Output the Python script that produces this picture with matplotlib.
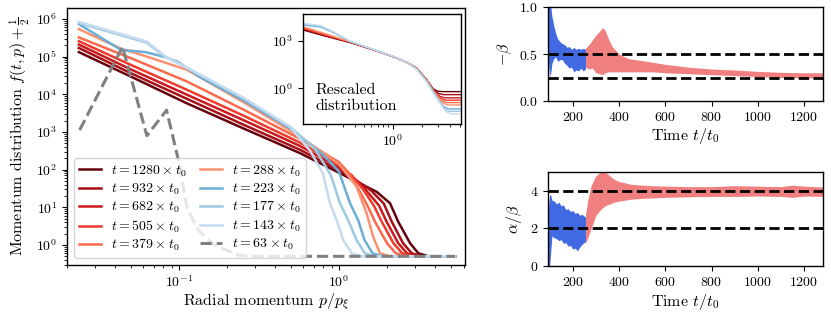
import numpy as np
import matplotlib
matplotlib.use('Agg')
import matplotlib.pyplot as plt
from matplotlib.ticker import NullLocator, NullFormatter, FixedLocator

plt.rcParams.update({
    'font.family': 'serif',
    'font.serif': ['cmr10'],
    'mathtext.fontset': 'cm',
    'axes.formatter.use_mathtext': True,
    'font.size': 10,
    'axes.labelsize': 11.5,
    'axes.linewidth': 1.0,
})

# ---- main panel: momentum distribution, values read as log10(p), log10(f + 1/2)
times = [1280, 932, 682, 505, 379, 288, 223, 177, 143]
colors = ['#67000d', '#a50f15', '#cb181d', '#ef3b2c', '#fb6a4a',
          '#fc9272', '#6baed6', '#9ecae1', '#c6dbef']

lp_1280 = [-1.625, -1.3, -0.95, -0.6, -0.244, 0.0, 0.11, 0.236, 0.319, 0.37, 0.444, 0.496, 0.56, 0.725]
lf_1280 = [5.12, 4.47, 3.76, 3.10, 2.44, 1.92, 1.68, 1.41, 1.11, 0.62, 0.05, -0.22, -0.30, -0.30]
lp_932 = [-1.625, -1.3, -0.95, -0.6, -0.244, 0.0, 0.1, 0.2, 0.28, 0.33, 0.40, 0.455, 0.52, 0.725]
lf_932 = [5.23, 4.56, 3.88, 3.20, 2.53, 1.98, 1.74, 1.45, 1.10, 0.62, 0.05, -0.22, -0.30, -0.30]
lp_682 = [-1.625, -1.3, -0.95, -0.6, -0.244, 0.0, 0.1, 0.17, 0.25, 0.298, 0.37, 0.425, 0.49, 0.725]
lf_682 = [5.32, 4.66, 3.99, 3.32, 2.63, 2.05, 1.75, 1.45, 1.05, 0.62, 0.05, -0.22, -0.30, -0.30]
lp_505 = [-1.625, -1.3, -0.95, -0.6, -0.244, 0.0, 0.08, 0.15, 0.22, 0.267, 0.34, 0.395, 0.46, 0.725]
lf_505 = [5.41, 4.78, 4.12, 3.44, 2.72, 2.12, 1.85, 1.48, 1.03, 0.62, 0.05, -0.22, -0.30, -0.30]
lp_379 = [-1.625, -1.3, -0.95, -0.6, -0.244, 0.0, 0.06, 0.12, 0.18, 0.225, 0.30, 0.355, 0.42, 0.725]
lf_379 = [5.51, 4.96, 4.34, 3.60, 2.82, 2.20, 1.92, 1.50, 1.03, 0.62, 0.05, -0.22, -0.30, -0.30]
lp_288 = [-1.625, -1.367, -1.2, -0.95, -0.6, -0.244, 0.0, 0.11, 0.173, 0.214, 0.256, 0.32, 0.725]
lf_288 = [5.73, 5.22, 5.00, 4.65, 3.80, 2.88, 2.15, 1.55, 0.84, 0.22, -0.22, -0.30, -0.30]
lp_223 = [-1.623, -1.3625, -1.21, -1.0875, -1.006, -0.869, -0.6, -0.306, -0.1, 0.0, 0.069, 0.12, 0.16, 0.21, 0.27, 0.725]
lf_223 = [5.86, 5.18, 5.12, 4.99, 4.86, 4.46, 3.85, 3.10, 2.40, 1.95, 1.11, 0.66, 0.13, -0.22, -0.30, -0.30]
lp_177 = [-1.625, -1.2, -1.096, -0.97, -0.6, -0.306, -0.15, -0.05, 0.006, 0.058, 0.11, 0.1625, 0.22, 0.725]
lf_177 = [5.89, 5.37, 5.02, 4.75, 3.90, 3.14, 2.55, 1.85, 1.11, 0.66, 0.13, -0.22, -0.30, -0.30]
lp_143 = [-1.625, -1.2, -1.077, -0.994, -0.6, -0.306, -0.18, -0.1, -0.056, -0.014, 0.027, 0.08, 0.14, 0.725]
lf_143 = [5.92, 5.40, 4.98, 4.80, 3.92, 3.14, 2.50, 1.90, 1.11, 0.66, 0.13, -0.22, -0.30, -0.30]
lp_63 = [-1.62, -1.352, -1.2, -1.077, -1.0, -0.95, -0.88, -0.78, -0.62, -0.5, 0.725]
lf_63 = [3.05, 5.26, 2.90, 3.58, 2.20, 1.00, 0.40, 0.00, -0.28, -0.30, -0.30]

main_p = [lp_1280, lp_932, lp_682, lp_505, lp_379, lp_288, lp_223, lp_177, lp_143]
main_f = [lf_1280, lf_932, lf_682, lf_505, lf_379, lf_288, lf_223, lf_177, lf_143]

# ---- inset: rescaled distribution (log10 values)
ip_1280 = [-0.934, -0.7, -0.446, -0.2, 0.006, 0.15, 0.25, 0.354, 0.424, 0.47, 0.52, 0.711]
if_1280 = [3.67, 3.28, 2.88, 2.42, 1.99, 1.62, 1.26, 0.53, -0.05, -0.18, -0.21, -0.21]
ip_932 = [-0.934, -0.7, -0.446, -0.2, 0.006, 0.15, 0.25, 0.354, 0.424, 0.48, 0.53, 0.711]
if_932 = [3.72, 3.31, 2.90, 2.42, 1.99, 1.62, 1.26, 0.53, -0.10, -0.33, -0.40, -0.40]
ip_682 = [-0.934, -0.7, -0.446, -0.2, 0.006, 0.15, 0.25, 0.354, 0.424, 0.49, 0.54, 0.711]
if_682 = [3.76, 3.34, 2.91, 2.42, 1.99, 1.62, 1.26, 0.53, -0.12, -0.50, -0.60, -0.60]
ip_505 = [-0.934, -0.7, -0.446, -0.2, 0.006, 0.15, 0.25, 0.354, 0.424, 0.50, 0.55, 0.711]
if_505 = [3.80, 3.37, 2.92, 2.42, 1.99, 1.62, 1.25, 0.52, -0.14, -0.64, -0.75, -0.75]
ip_379 = [-0.934, -0.7, -0.446, -0.2, 0.006, 0.15, 0.25, 0.354, 0.424, 0.51, 0.56, 0.711]
if_379 = [3.84, 3.40, 2.93, 2.43, 1.99, 1.62, 1.25, 0.51, -0.16, -0.78, -0.90, -0.90]
ip_288 = [-0.934, -0.7, -0.446, -0.2, 0.006, 0.15, 0.25, 0.354, 0.424, 0.52, 0.57, 0.711]
if_288 = [3.88, 3.44, 2.94, 2.43, 1.99, 1.62, 1.24, 0.50, -0.18, -0.92, -1.05, -1.05]
ip_223 = [-0.934, -0.75, -0.6, -0.446, -0.2, 0.006, 0.15, 0.25, 0.354, 0.424, 0.53, 0.58, 0.711]
if_223 = [3.99, 3.86, 3.45, 2.95, 2.44, 2.00, 1.62, 1.22, 0.45, -0.22, -1.15, -1.30, -1.30]
ip_177 = [-0.934, -0.75, -0.6, -0.446, -0.2, 0.006, 0.15, 0.25, 0.354, 0.424, 0.54, 0.59, 0.711]
if_177 = [4.05, 3.92, 3.48, 2.96, 2.44, 2.00, 1.62, 1.20, 0.42, -0.26, -1.30, -1.45, -1.45]
ip_143 = [-0.934, -0.75, -0.6, -0.446, -0.2, 0.006, 0.15, 0.25, 0.354, 0.424, 0.55, 0.60, 0.711]
if_143 = [4.09, 3.95, 3.50, 2.98, 2.45, 2.01, 1.62, 1.18, 0.40, -0.30, -1.45, -1.60, -1.60]

inset_p = [ip_1280, ip_932, ip_682, ip_505, ip_379, ip_288, ip_223, ip_177, ip_143]
inset_f = [if_1280, if_932, if_682, if_505, if_379, if_288, if_223, if_177, if_143]

# ---- right panels: exponent bands (lower / upper envelopes)
beta_t_blue = [94, 100, 105, 110, 118, 126, 135, 145, 155, 165, 175, 184, 195, 205, 215, 225, 235, 245, 255]
beta_hi_blue = [1.05, 1.05, 1.0, 0.9, 0.8, 0.72, 0.66, 0.63, 0.61, 0.6, 0.57, 0.58, 0.55, 0.57, 0.55, 0.56, 0.55, 0.56, 0.55]
beta_lo_blue = [0.45, 0.26, 0.3, 0.4, 0.45, 0.47, 0.42, 0.44, 0.44, 0.4, 0.38, 0.35, 0.36, 0.31, 0.33, 0.32, 0.35, 0.32, 0.34]
beta_t_red = [255, 270, 285, 300, 315, 330, 340, 355, 370, 400, 440, 500, 550, 600, 700, 800, 900, 1000, 1100, 1200, 1280]
beta_hi_red = [0.56, 0.6, 0.65, 0.7, 0.74, 0.78, 0.75, 0.66, 0.58, 0.5, 0.45, 0.43, 0.41, 0.39, 0.36, 0.34, 0.33, 0.315, 0.305, 0.3, 0.3]
beta_lo_red = [0.36, 0.34, 0.35, 0.3, 0.29, 0.28, 0.3, 0.31, 0.31, 0.31, 0.31, 0.31, 0.31, 0.3, 0.29, 0.28, 0.27, 0.26, 0.25, 0.245, 0.245]

ab_t_blue = [94, 100, 105, 110, 120, 130, 140, 150, 160, 170, 180, 190, 200, 210, 220, 230, 240, 250, 255]
ab_hi_blue = [3.0, 3.8, 3.75, 3.5, 3.45, 3.3, 3.4, 3.2, 3.25, 3.0, 3.05, 2.9, 2.95, 2.8, 2.85, 2.7, 2.75, 2.65, 2.6]
ab_lo_blue = [0.0, 0.0, 0.8, 1.6, 1.5, 1.45, 1.35, 1.4, 1.2, 1.25, 1.05, 1.1, 0.9, 0.95, 0.8, 1.0, 1.15, 1.25, 1.3]
ab_t_red = [255, 265, 280, 300, 320, 340, 360, 380, 400, 450, 500, 550, 600, 700, 800, 900, 1000, 1100, 1150, 1200, 1280]
ab_hi_red = [2.7, 3.5, 4.3, 4.8, 5.0, 5.0, 4.8, 4.6, 4.5, 4.35, 4.3, 4.27, 4.25, 4.22, 4.22, 4.27, 4.25, 4.22, 4.3, 4.25, 4.2]
ab_lo_red = [1.2, 1.5, 2.0, 2.7, 3.0, 3.2, 3.3, 3.4, 3.45, 3.55, 3.6, 3.62, 3.65, 3.68, 3.7, 3.7, 3.72, 3.7, 3.65, 3.72, 3.7]

W, H = 831, 312
fig = plt.figure(figsize=(W / 100, H / 100), dpi=100)

def box(x0, y0, x1, y1):
    return [x0 / W, 1 - y1 / H, (x1 - x0) / W, (y1 - y0) / H]

def log_minors(lo, hi):
    # minor tick values 2..9 x 10^k between the decades lo and hi
    return [m * 10.0 ** k for k in range(lo, hi) for m in range(2, 10)]

# Main panel
ax = fig.add_axes(box(67, 8, 465, 265))
for t, c, lp, lf in zip(times, colors, main_p, main_f):
    ax.plot(10 ** np.array(lp), 10 ** np.array(lf), color=c, lw=1.8,
            label=r'$t = %d \times t_0$' % t)
ax.plot(10 ** np.array(lp_63), 10 ** np.array(lf_63), color='gray', lw=2.2,
        ls='--', label=r'$t = 63 \times t_0$')
ax.set_xscale('log')
ax.set_yscale('log')
ax.set_xlim(0.02, 6.13)
ax.set_ylim(0.295, 1.95e6)
ax.yaxis.set_major_locator(FixedLocator([10.0 ** k for k in range(0, 7)]))
ax.yaxis.set_minor_locator(FixedLocator([v for v in log_minors(-1, 7) if 0.295 < v < 1.95e6]))
ax.yaxis.set_minor_formatter(NullFormatter())
ax.xaxis.set_major_locator(FixedLocator([0.1, 1.0]))
ax.xaxis.set_minor_locator(FixedLocator([v for v in log_minors(-2, 1) if 0.02 <= v < 6.13]))
ax.xaxis.set_minor_formatter(NullFormatter())
ax.set_xlabel(r'Radial momentum $p/p_\xi$', labelpad=0.5)
ax.set_ylabel(r'Momentum distribution $f(t,p)+\frac{1}{2}$', labelpad=3)
ax.legend(loc='lower left', ncol=2, fontsize=10, handlelength=1.6,
          handletextpad=0.7, columnspacing=1.0, labelspacing=0.22,
          borderpad=0.35, framealpha=0.8, bbox_to_anchor=(0.0, 0.0))

# Inset
axi = fig.add_axes(box(303, 14, 461, 124))
for c, lp, lf in zip(colors, inset_p, inset_f):
    axi.plot(10 ** np.array(lp), 10 ** np.array(lf), color=c, lw=1.0)
axi.set_xscale('log')
axi.set_yscale('log')
axi.set_xlim(0.116, 5.15)
axi.set_ylim(10 ** -2.25, 10 ** 4.68)
axi.yaxis.set_major_locator(FixedLocator([1, 1e3]))
axi.yaxis.set_minor_locator(NullLocator())
axi.xaxis.set_major_locator(FixedLocator([1]))
axi.xaxis.set_minor_locator(FixedLocator([v for v in log_minors(-1, 1) if 0.116 <= v < 5.15]))
axi.xaxis.set_minor_formatter(NullFormatter())
axi.text(0.082, 0.1, 'Rescaled\ndistribution', transform=axi.transAxes,
         ha='left', va='bottom', linespacing=1.25, fontsize=11.5)

# Right top: -beta
ax1 = fig.add_axes(box(548, 7, 823, 101))
ax1.fill_between(beta_t_blue, beta_lo_blue, beta_hi_blue, color='royalblue', lw=0)
ax1.fill_between(beta_t_red, beta_lo_red, beta_hi_red, color='lightcoral', lw=0)
ax1.axhline(0.5, color='k', ls='--', lw=2)
ax1.axhline(0.25, color='k', ls='--', lw=2)
ax1.set_xlim(93, 1282)
ax1.set_ylim(0, 1)
ax1.set_xticks([200, 400, 600, 800, 1000, 1200])
ax1.set_yticks([0.0, 0.5, 1.0])
ax1.set_xlabel(r'Time $t/t_0$', labelpad=2)
ax1.set_ylabel(r'$-\beta$')

# Right bottom: alpha/beta
ax2 = fig.add_axes(box(548, 172, 823, 266))
ax2.fill_between(ab_t_blue, ab_lo_blue, ab_hi_blue, color='royalblue', lw=0)
ax2.fill_between(ab_t_red, ab_lo_red, ab_hi_red, color='lightcoral', lw=0)
ax2.axhline(4, color='k', ls='--', lw=2)
ax2.axhline(2, color='k', ls='--', lw=2)
ax2.set_xlim(93, 1282)
ax2.set_ylim(0, 5)
ax2.set_xticks([200, 400, 600, 800, 1000, 1200])
ax2.set_yticks([0, 2, 4])
ax2.set_xlabel(r'Time $t/t_0$', labelpad=2)
ax2.set_ylabel(r'$\alpha/\beta$')

fig.savefig('out.png', dpi=100)
